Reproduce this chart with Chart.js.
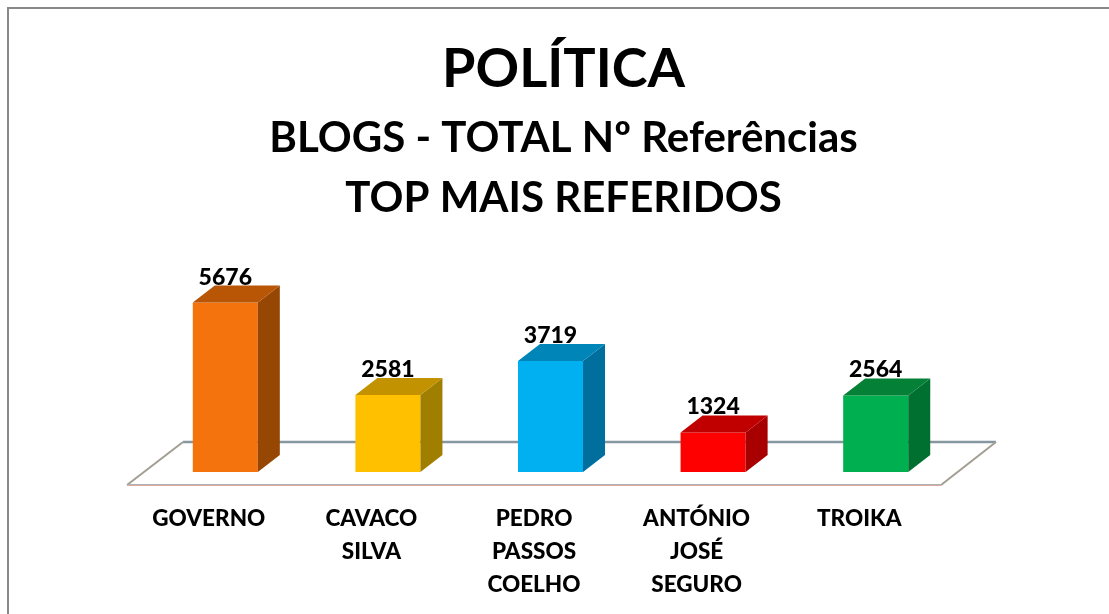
<!DOCTYPE html>
<html>
<head>
<meta charset="utf-8">
<title>POLÍTICA</title>
<style>
    html, body { margin: 0; padding: 0; background: #fff; overflow: hidden; }
    #wrap { position: relative; width: 1109px; height: 614px; }
    #frame { position: absolute; left: 7px; top: 7px; right: 0; bottom: 0; border-left: 2px solid #888; border-top: 2px solid #888; }
    canvas { position: absolute; left: 0; top: 0; }
</style>
<script src="https://cdn.jsdelivr.net/npm/chart.js@4"></script>
</head>
<body>
<div id="wrap">
    <div id="frame"></div>
    <canvas id="chart" width="1109" height="614"></canvas>
</div>
<script>
const categories = [
    'GOVERNO',
    ['CAVACO', 'SILVA'],
    ['PEDRO', 'PASSOS', 'COELHO'],
    ['ANTÓNIO', 'JOSÉ', 'SEGURO'],
    'TROIKA'
];
const referencias = [5676, 2581, 3719, 1324, 2564];

const frontColors = ['#F4730C', '#FFC000', '#00B0F0', '#FF0000', '#00B050'];
const topColors = ['#B85606', '#C29200', '#0085B8', '#C00000', '#048037'];
const sideColors = ['#964703', '#A07E00', '#006F9E', '#A80000', '#007030'];

const titleText = 'POLÍTICA';
const subtitleLines = ['BLOGS - TOTAL Nº Referências', 'TOP MAIS REFERIDOS'];

const fontFamily = 'Lato, "Open Sans", sans-serif';
const depthX = 22;
const depthY = 17;
const titleShift = 13;

function line(ctx, x1, y1, x2, y2, color) {
    ctx.strokeStyle = color;
    ctx.beginPath();
    ctx.moveTo(x1, y1);
    ctx.lineTo(x2, y2);
    ctx.stroke();
}

// The titles are centred a little right of the plot area
const titleShiftPlugin = {
    id: 'titleShift',
    afterLayout(chart) {
        chart.boxes.forEach(box => {
            if (box.options && box.options.text) {
                box.left += titleShift;
                box.right += titleShift;
            }
        });
    }
};

// The floor sits under the bars, offset from the plot area
const floorPlugin = {
    id: 'floor',
    beforeDatasetsDraw(chart) {
        const { ctx, chartArea } = chart;
        const frontY = chartArea.bottom + 13;
        const backY = chartArea.bottom - 30;
        const frontL = chartArea.left - 17;
        const frontR = chartArea.right - 16;
        const backL = frontL + 56;
        const backR = frontR + 55;
        ctx.save();
        ctx.lineWidth = 2.5;
        line(ctx, backL, backY, backR, backY, '#86989F');
        ctx.lineWidth = 2;
        line(ctx, frontL, frontY, backL, backY, '#A39E92');
        line(ctx, frontR, frontY, backR, backY, '#A39E92');
        ctx.lineWidth = 1;
        line(ctx, frontL, frontY - 0.5, frontR, frontY - 0.5, '#A9B3B1');
        line(ctx, frontL, frontY + 0.5, frontR, frontY + 0.5, '#E3A79E');
        ctx.restore();
    }
};

// Side and top faces plus the value labels, taken from the drawn bars
const boxPlugin = {
    id: 'box',
    afterDatasetsDraw(chart) {
        const { ctx } = chart;
        const bars = chart.getDatasetMeta(0).data;
        ctx.save();
        bars.forEach((bar, i) => {
            const w = bar.width / 2;
            const l = bar.x - w;
            const r = bar.x + w;

            ctx.fillStyle = sideColors[i];
            ctx.beginPath();
            ctx.moveTo(r, bar.y);
            ctx.lineTo(r + depthX, bar.y - depthY);
            ctx.lineTo(r + depthX, bar.base - depthY);
            ctx.lineTo(r, bar.base);
            ctx.closePath();
            ctx.fill();

            ctx.fillStyle = topColors[i];
            ctx.beginPath();
            ctx.moveTo(l, bar.y);
            ctx.lineTo(l + depthX, bar.y - depthY);
            ctx.lineTo(r + depthX, bar.y - depthY);
            ctx.lineTo(r, bar.y);
            ctx.closePath();
            ctx.fill();

            ctx.fillStyle = '#000';
            ctx.font = '900 23px ' + fontFamily;
            ctx.textAlign = 'center';
            ctx.textBaseline = 'alphabetic';
            ctx.fillText(String(referencias[i]), bar.x, bar.y - depthY - 1);
        });
        ctx.restore();
    }
};

new Chart(document.getElementById('chart'), {
    type: 'bar',
    data: {
        labels: categories,
        datasets: [{
            label: 'Referências',
            data: referencias,
            backgroundColor: frontColors,
            borderWidth: 0,
            barPercentage: 1,
            categoryPercentage: 0.4
        }]
    },
    options: {
        responsive: false,
        animation: false,
        layout: { padding: { left: 144, right: 152, top: 37, bottom: 0 } },
        plugins: {
            legend: { display: false },
            tooltip: { enabled: false },
            title: {
                display: true,
                text: titleText,
                color: '#000',
                font: { family: fontFamily, size: 54, weight: '700', lineHeight: 1.2 },
                padding: { top: 0, bottom: 7 }
            },
            subtitle: {
                display: true,
                text: subtitleLines,
                color: '#000',
                font: { family: fontFamily, size: 42, weight: '700', lineHeight: 1.43 },
                padding: { top: 0, bottom: 64 }
            }
        },
        scales: {
            x: {
                grid: { display: false },
                border: { display: false },
                afterFit(scale) { scale.height = 142; },
                ticks: {
                    color: '#000',
                    font: { family: fontFamily, size: 22.5, weight: '900', lineHeight: 1.47 },
                    padding: 22,
                    labelOffset: -16.5,
                    maxRotation: 0,
                    autoSkip: false
                }
            },
            y: {
                display: false,
                min: 0,
                max: 6000
            }
        }
    },
    plugins: [titleShiftPlugin, floorPlugin, boxPlugin]
});
</script>
</body>
</html>
